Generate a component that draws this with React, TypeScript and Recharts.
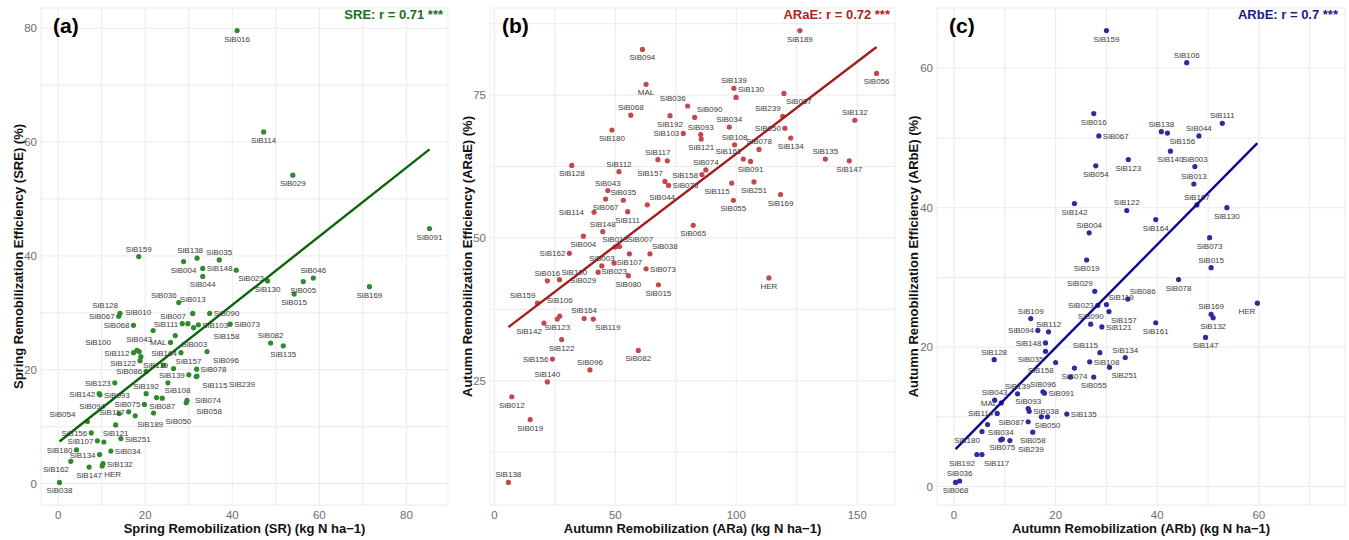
import React from 'react';
import { ScatterChart, Scatter, XAxis, YAxis, CartesianGrid, Label } from 'recharts';

// panel (a): spring remobilization vs efficiency
const aNames = ['SiB016', 'SiB114', 'SiB029', 'SiB091', 'SiB159', 'SiB138', 'SiB004', 'SiB035', 'SiB148', 'SiB023', 'SiB044', 'SiB130', 'SiB005', 'SiB046', 'SiB015', 'SiB169', 'SiB036', 'SiB013', 'SiB090', 'SiB128', 'SiB067', 'SiB068', 'SiB010', 'SiB111', 'SiB007', 'SiB103', 'SiB158', 'SiB073', 'MAL', 'SiB003', 'SiB100', 'SiB043', 'SiB112', 'SiB122', 'SiB119', 'SiB164', 'SiB096', 'SiB082', 'SiB135', '', 'SiB157', 'SiB086', 'SiB139', 'SiB078', 'SiB115', 'SiB239', 'SiB123', 'SiB192', '', 'SiB108', 'SiB142', 'SiB093', 'SiB075', 'SiB087', 'SiB074', 'SiB058', 'SiB189', 'SiB050', 'SiB117', 'SiB094', 'SiB054', 'SiB121', 'SiB156', 'SiB107', '', 'SiB251', 'SiB180', 'SiB034', 'SiB134', 'SiB132', 'SiB162', 'SiB147', 'HER', 'SiB038'];
const aSR = [41.1, 47.2, 53.9, 85.3, 18.5, 31.9, 28.8, 37.0, 33.2, 40.9, 33.2, 48.1, 56.3, 58.6, 54.2, 71.5, 27.7, 30.9, 34.8, 14.2, 13.9, 17.3, 21.8, 28.5, 29.8, 32.2, 31.1, 39.5, 25.8, 26.9, 18.1, 18.6, 17.3, 18.8, 19.0, 28.2, 34.2, 48.8, 51.7, 24.2, 26.5, 20.2, 30.0, 31.8, 31.7, 31.9, 13.0, 20.2, 25.2, 22.6, 9.4, 9.6, 19.8, 23.9, 29.6, 29.4, 17.7, 21.9, 16.2, 14.0, 6.7, 13.2, 7.6, 9.0, 10.5, 14.4, 4.2, 12.1, 9.5, 10.3, 2.9, 7.1, 10.1, 0.3];
const aSRE = [79.6, 61.8, 54.2, 44.8, 39.9, 39.6, 39.0, 39.3, 37.8, 37.5, 36.4, 35.6, 35.5, 36.1, 33.3, 34.6, 31.8, 29.9, 29.9, 29.9, 29.4, 27.8, 26.9, 28.1, 28.1, 27.9, 27.4, 28.0, 24.8, 26.0, 23.4, 23.2, 23.0, 21.6, 22.3, 23.0, 23.2, 24.7, 24.2, 20.8, 20.2, 19.7, 19.1, 20.1, 18.8, 18.9, 17.7, 15.8, 17.7, 15.1, 15.8, 15.6, 13.9, 15.0, 14.6, 14.2, 11.9, 12.4, 12.6, 12.3, 10.9, 10.3, 8.9, 7.5, 7.3, 7.9, 5.9, 5.7, 5.1, 3.5, 3.9, 2.9, 3.1, 0.2];
// label side per point: t/b/l/r/tl/tr/bl/br, optional gap[,extra], n = no label
const aSide = ['b', 'b', 'b', 'b', 't', 'tl-8', 'b', 't', 'r', 'br', 'b', 'b', 'b', 't', 'b', 'b', 'tl', 't6', 'r', 'tl', 'l', 'l', 'tl0,10', 'l', 'tl', 'r', 'br18', 'r', 'l', 'br4', 'tl24', 't5', 'l', 'l0,2', 'br', 'l', 'br4', 't', 'b', 'n', 'tr', 'l', 'l', 'r', 'br4', 'br30', 'l', 't', 'n', 'tr6', 'l', 'r', 'l', 'b', 'r4', 'br8', 'br', 'br10', 'l', 'tl12', 'tl10', 'b', 'l', 'l', 'n', 'r', 'l', 'r', 'l', 'r', 'bl', 'b', 'br', 'b'];

// panel (b): autumn remobilization (ARa) vs efficiency
const bNames = ['SiB189', 'SiB094', 'SiB056', 'MAL', 'SiB139', 'SiB130', 'SiB087', 'SiB036', 'SiB068', 'SiB192', 'SiB090', 'SiB132', 'SiB239', 'SiB034', 'SiB050', 'SiB180', 'SiB103', 'SiB093', 'SiB121', 'SiB134', 'SiB108', 'SiB078', 'SiB117', '', 'SiB161', 'SiB091', 'SiB135', 'SiB147', 'SiB128', 'SiB112', 'SiB074', 'SiB158', 'SiB115', 'SiB251', 'SiB157', 'SiB075', 'SiB043', 'SiB169', 'SiB067', 'SiB035', 'SiB055', 'SiB044', 'SiB114', 'SiB111', 'SiB065', 'SiB148', 'SiB004', 'SiB013', 'SiB007', 'SiB038', 'SiB162', 'SiB107', 'SiB003', 'SiB023', 'SiB080', 'SiB073', 'SiB015', 'SiB016', 'SiB100', 'SiB029', 'SiB159', 'SiB106', 'SiB123', 'SiB164', 'SiB119', 'SiB142', 'SiB122', 'SiB082', 'SiB156', 'SiB096', 'SiB140', 'SiB012', 'SiB019', 'SiB138', 'HER'];
const bARa = [126.3, 61.2, 158.0, 62.7, 99.0, 99.9, 119.7, 79.9, 56.4, 72.6, 82.8, 149.0, 119.2, 97.1, 120.1, 48.6, 78.1, 85.3, 85.5, 122.5, 99.3, 109.4, 67.6, 71.5, 102.9, 105.9, 136.8, 146.7, 32.0, 51.5, 87.4, 85.8, 98.1, 107.3, 70.5, 72.0, 46.9, 118.3, 46.0, 53.3, 98.8, 63.2, 41.2, 55.1, 82.2, 44.8, 36.8, 49.9, 51.7, 64.3, 31.0, 55.8, 44.4, 49.5, 55.4, 62.7, 67.8, 21.9, 26.9, 42.9, 17.8, 27.0, 26.0, 37.1, 40.9, 20.5, 27.8, 59.5, 24.0, 39.5, 21.9, 7.2, 14.8, 5.8, 113.5];
const bARaE = [86.3, 83.0, 78.8, 76.9, 76.2, 74.6, 75.3, 73.1, 71.5, 71.4, 71.1, 70.6, 71.3, 69.4, 69.2, 68.9, 68.3, 68.1, 67.3, 67.5, 66.3, 65.5, 63.7, 63.5, 63.8, 63.4, 63.8, 63.5, 62.7, 61.6, 61.9, 61.1, 59.6, 59.8, 59.9, 59.2, 58.3, 57.6, 56.8, 56.6, 56.6, 55.8, 54.5, 54.6, 52.2, 51.1, 50.3, 48.4, 48.5, 47.2, 47.3, 47.2, 45.1, 45.6, 43.4, 44.6, 41.8, 42.5, 42.7, 44.0, 38.6, 36.3, 35.8, 35.9, 35.8, 35.1, 32.2, 30.3, 28.8, 26.9, 24.8, 22.2, 18.2, 7.2, 43.0];
const bSide = ['b', 'b', 'b', 'b', 't', 'tr', 'br', 'tl', 't', 'b', 'tr', 't', 'tl', 't', 'l', 'b', 'l', 't', 'b', 'b', 't', 't', 't', 'n', 'tl', 'b', 't', 'b', 'b', 't', 't', 'l', 'bl', 'b', 'tl', 'r', 't', 'b', 'b', 't', 'b', 'tr', 'l6', 'b', 'b', 't', 'b', 't', 'tr6', 'tr', 'l', 'b', 't', 'b', 'b', 'r', 'b', 't', 'tr', 'bl', 'tl', 't8', 'b', 't', 'br', 'bl', 'b', 'b', 'l', 't', 't', 'b', 'b', 't', 'b'];

// panel (c): autumn remobilization (ARb) vs efficiency
const cNames = ['SiB159', 'SiB106', 'SiB016', 'SiB111', 'SiB138', 'SiB156', 'SiB044', 'SiB067', 'SiB140', 'SiB123', 'SiB054', 'SiB003', 'SiB013', 'SiB107', 'SiB130', 'SiB142', 'SiB122', 'SiB164', 'SiB004', 'SiB073', 'SiB019', 'SiB015', 'SiB078', 'SiB029', 'SiB086', 'SiB119', 'SiB023', 'SiB157', 'SiB121', 'SiB090', 'HER', 'SiB169', 'SiB132', 'SiB109', 'SiB161', 'SiB094', 'SiB112', 'SiB147', 'SiB148', 'SiB035', 'SiB115', 'SiB128', 'SiB134', 'SiB108', 'SiB158', 'SiB251', 'SiB074', '', 'SiB055', 'SiB139', 'SiB096', 'SiB091', 'SiB043', 'MAL', 'SiB093', 'SiB038', 'SiB087', 'SiB050', '', 'SiB135', 'SiB114', '', 'SiB180', 'SiB058', 'SiB034', 'SiB075', 'SiB239', 'SiB192', 'SiB117', 'SiB068', 'SiB036'];
const cARb = [30.0, 45.8, 27.5, 52.8, 40.8, 42.0, 48.2, 28.5, 42.6, 34.3, 27.9, 47.4, 47.2, 47.8, 53.7, 23.7, 34.0, 39.7, 26.6, 50.3, 26.1, 50.6, 44.2, 27.7, 34.2, 30.0, 28.3, 30.5, 29.1, 26.9, 59.7, 50.6, 51.0, 15.1, 39.7, 16.5, 18.6, 49.5, 18.0, 18.0, 28.7, 7.9, 33.7, 26.7, 20.0, 30.6, 23.7, 22.9, 27.5, 12.5, 17.5, 17.8, 8.0, 9.3, 14.6, 14.8, 14.6, 18.4, 17.2, 22.2, 8.5, 6.6, 5.5, 15.5, 9.2, 9.5, 11.0, 4.5, 5.5, 0.3, 1.1];
const cARbE = [65.4, 60.8, 53.5, 52.1, 50.9, 50.7, 50.3, 50.3, 48.1, 46.9, 46.0, 45.9, 43.4, 40.4, 40.0, 40.6, 39.6, 38.3, 36.4, 35.7, 32.5, 31.4, 29.7, 28.0, 26.9, 26.1, 26.0, 25.1, 22.9, 23.3, 26.3, 24.7, 24.2, 24.1, 23.5, 22.4, 22.2, 21.4, 20.6, 19.4, 19.2, 18.2, 18.5, 17.9, 17.8, 17.1, 17.0, 15.7, 15.7, 13.3, 13.6, 13.4, 12.4, 12.0, 11.2, 10.8, 9.3, 10.0, 10.0, 10.4, 10.5, 8.9, 7.9, 7.8, 6.7, 6.8, 6.6, 4.6, 4.6, 0.6, 0.8];
const cSide = ['b', 't', 'b', 't', 't', 'br', 't', 'r', 'b', 'b', 'b', 't', 't', 't', 'b', 'b', 't', 'b', 't', 'b', 'b', 't', 'b', 'tl', 'tr', 'tr', 'l', 'br', 'r', 't', 'bl', 't', 'b', 't', 'b', 'l', 't', 'b', 'l', 'bl', 'tl', 't', 't', 'r', 'bl', 'br', 'b', 'n', 'b', 't', 't', 'r', 't', 'l', 't', 'r', 'l', 'b', 'n', 'r', 'l', 'n', 'bl', 'b', 't', 'b', 'br6', 'bl', 'br', 'b', 't'];

const FONT = '"Liberation Sans", Arial, Helvetica, sans-serif';

type Row = { name: string; x: number; y: number; side: string };

function rows(names: string[], xs: number[], ys: number[], sides: string[]): Row[] {
  return names.map((name, i) => ({ name, x: xs[i], y: ys[i], side: sides[i] }));
}

// ggplot-style 5% expansion
function expand(lo: number, hi: number): [number, number] {
  const pad = (hi - lo) * 0.05;
  return [lo - pad, hi + pad];
}

// where a point's label goes, relative to the point
function placeLabel(cx: number, cy: number, code: string) {
  const m = /^([a-z]+)(-?\d+)?(?:,(-?\d+))?$/.exec(code) || [];
  const dir = m[1] || 'b';
  const g = Number(m[2] || 0);
  const v = Number(m[3] || 0);
  switch (dir) {
    case 't': return { x: cx, y: cy - 5 - g, anchor: 'middle' };
    case 'l': return { x: cx - 4 - g, y: cy + 3 + v, anchor: 'end' };
    case 'r': return { x: cx + 4 + g, y: cy + 3 + v, anchor: 'start' };
    case 'tl': return { x: cx - 2 - g, y: cy - 5 - v, anchor: 'end' };
    case 'tr': return { x: cx + 2 + g, y: cy - 5 - v, anchor: 'start' };
    case 'bl': return { x: cx - 2 - g, y: cy + 11 + v, anchor: 'end' };
    case 'br': return { x: cx + 2 + g, y: cy + 11 + v, anchor: 'start' };
    default: return { x: cx, y: cy + 11 + g, anchor: 'middle' };
  }
}

type PanelProps = {
  data: Row[];
  left: number;
  width: number;
  yAxisW: number;
  yTitleX: number;
  xMax?: number;
  xTicks: number[];
  xMajor: number[];
  yTicks: number[];
  yMajor: number[];
  xTitle: string;
  yTitle: string;
  dot: string;
  line: string;
  tag: string;
  note: string;
  noteColor: string;
  noteRight: number;
};

function Panel(p: PanelProps) {
  const xs = p.data.map((d) => d.x);
  const ys = p.data.map((d) => d.y);
  const xDomain = expand(Math.min(...xs), Math.max(p.xMax ?? -Infinity, ...xs));
  const yDomain = expand(Math.min(...ys), Math.max(...ys));

  const tick = { fontSize: 11.5, fill: '#6e6e6e', fontFamily: FONT };

  const labelShape = (props: any) => {
    const { cx, cy, payload } = props;
    if (!payload || !payload.name || payload.side === 'n') return <g />;
    const pos = placeLabel(cx, cy, payload.side);
    return (
      <text x={pos.x} y={pos.y} textAnchor={pos.anchor as any} fontSize={8} fill="#3c3c3c" fontFamily={FONT}>
        {payload.name}
      </text>
    );
  };

  return (
    <div style={{ position: 'absolute', left: p.left, top: 0, width: p.width, height: 540 }}>
      <ScatterChart width={p.width} height={540} margin={{ top: 8, right: 4, bottom: 0, left: 0 }}>
        <CartesianGrid stroke="#ebebeb" strokeWidth={1} />
        <XAxis
          type="number"
          dataKey="x"
          domain={xDomain}
          allowDataOverflow
          ticks={p.xTicks}
          interval={0}
          tickFormatter={(v: number) => (p.xMajor.includes(v) ? String(v) : '')}
          axisLine={false}
          tickLine={false}
          tickSize={0}
          tickMargin={6}
          height={35}
          tick={tick}
        >
          <Label
            content={(lp: any) => {
              const vb = lp.viewBox || {};
              return (
                <text x={vb.x + vb.width / 2} y={vb.y + 28} textAnchor="middle" fontSize={13} fontWeight="bold" fill="#111" fontFamily={FONT}>
                  {p.xTitle}
                </text>
              );
            }}
          />
        </XAxis>
        <YAxis
          type="number"
          dataKey="y"
          domain={yDomain}
          allowDataOverflow
          ticks={p.yTicks}
          interval={0}
          tickFormatter={(v: number) => (p.yMajor.includes(v) ? String(v) : '')}
          axisLine={false}
          tickLine={false}
          tickSize={0}
          tickMargin={4}
          width={p.yAxisW}
          tick={tick}
        >
          <Label
            content={(lp: any) => {
              const vb = lp.viewBox || {};
              const cx = p.yTitleX;
              const cy = vb.y + vb.height / 2;
              return (
                <text
                  x={cx}
                  y={cy}
                  transform={`rotate(-90, ${cx}, ${cy})`}
                  textAnchor="middle"
                  dominantBaseline="central"
                  fontSize={13}
                  fontWeight="bold"
                  fill="#111"
                  fontFamily={FONT}
                >
                  {p.yTitle}
                </text>
              );
            }}
          />
        </YAxis>
        <Scatter data={p.data} fill={p.dot} isAnimationActive={false} shape={(s: any) => <circle cx={s.cx} cy={s.cy} r={2.6} fill={p.dot} />} />
        <Scatter
          data={p.data}
          fill={p.line}
          line={{ stroke: p.line, strokeWidth: 2.4 }}
          lineType="fitting"
          isAnimationActive={false}
          shape={() => <g />}
        />
        <Scatter data={p.data} isAnimationActive={false} shape={labelShape} />
      </ScatterChart>
      <div style={{ position: 'absolute', left: p.yAxisW + 12, top: 15, fontSize: 21, fontWeight: 'bold', lineHeight: 1, fontFamily: FONT, color: '#000' }}>
        {p.tag}
      </div>
      <div style={{ position: 'absolute', right: p.noteRight, top: 8, fontSize: 13, fontWeight: 'bold', lineHeight: 1, fontFamily: FONT, color: p.noteColor, whiteSpace: 'nowrap' }}>
        {p.note}
      </div>
    </div>
  );
}

export default function App() {
  return (
    <div style={{ position: 'absolute', left: 0, top: 0, width: 1349, height: 540, background: '#fff', fontFamily: FONT }}>
      <Panel
        data={rows(aNames, aSR, aSRE, aSide)}
        left={0}
        width={452}
        yAxisW={41}
        yTitleX={18}
        xTicks={[0, 10, 20, 30, 40, 50, 60, 70, 80]}
        xMajor={[0, 20, 40, 60, 80]}
        yTicks={[0, 10, 20, 30, 40, 50, 60, 70, 80]}
        yMajor={[0, 20, 40, 60, 80]}
        xTitle="Spring Remobilization (SR) (kg N ha−1)"
        yTitle="Spring Remobilization Efficiency (SRE) (%)"
        dot="#2f8a2f"
        line="#0a640a"
        tag="(a)"
        note="SRE: r = 0.71 ***"
        noteColor="#1d6e1d"
        noteRight={9}
      />
      <Panel
        data={rows(bNames, bARa, bARaE, bSide)}
        left={452}
        width={447}
        yAxisW={38}
        yTitleX={15}
        xTicks={[0, 25, 50, 75, 100, 125, 150]}
        xMajor={[0, 50, 100, 150]}
        yTicks={[12.5, 25, 37.5, 50, 62.5, 75, 87.5]}
        yMajor={[25, 50, 75]}
        xTitle="Autumn Remobilization (ARa) (kg N ha−1)"
        yTitle="Autumn Remobilization Efficiency (ARaE) (%)"
        dot="#c4474b"
        line="#a31c1c"
        tag="(b)"
        note="ARaE: r = 0.72 ***"
        noteColor="#b02323"
        noteRight={9}
      />
      <Panel
        data={rows(cNames, cARb, cARbE, cSide)}
        left={899}
        width={450}
        yAxisW={38}
        yTitleX={14}
        xMax={73.3}
        xTicks={[0, 10, 20, 30, 40, 50, 60, 70]}
        xMajor={[0, 20, 40, 60]}
        yTicks={[0, 10, 20, 30, 40, 50, 60]}
        yMajor={[0, 20, 40, 60]}
        xTitle="Autumn Remobilization (ARb) (kg N ha−1)"
        yTitle="Autumn Remobilization Efficiency (ARbE) (%)"
        dot="#2c2c9c"
        line="#0a0a8c"
        tag="(c)"
        note="ARbE: r = 0.7 ***"
        noteColor="#1a1a8a"
        noteRight={11}
      />
    </div>
  );
}
